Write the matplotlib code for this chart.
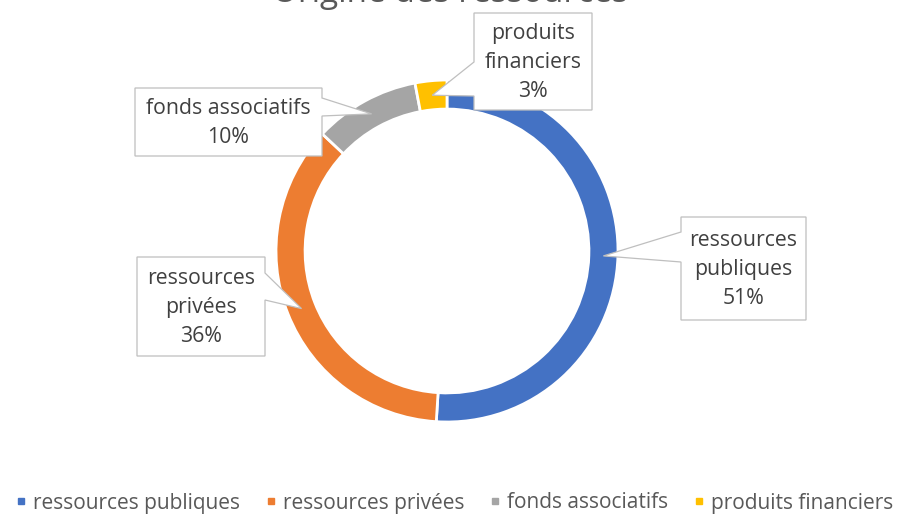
import numpy as np
import matplotlib
matplotlib.use("Agg")
import matplotlib.pyplot as plt
from matplotlib.patches import Polygon
from matplotlib.lines import Line2D

plt.rcParams['font.family'] = ['Open Sans', 'DejaVu Sans']

title = "Origine des ressources"
categories = ["ressources publiques", "ressources privées", "fonds associatifs", "produits financiers"]
label_lines = ["ressources\npubliques", "ressources\nprivées", "fonds associatifs", "produits\nfinanciers"]
values = [51, 36, 10, 3]
colors = ["#4472C4", "#ED7D31", "#A5A5A5", "#FFC000"]

W, H = 899, 515
CX, CY, R = 447, 251, 171  # donut centre / radius in pixels

fig = plt.figure(figsize=(W / 100, H / 100), dpi=100)
ax = fig.add_axes([0, 0, 1, 1])
ax.axis('off')


def px(x, y):
    return ((x - CX) / R, (CY - y) / R)


ring_w = 0.17
wedges, _ = ax.pie(values, colors=colors, startangle=90, counterclock=False,
                   radius=1.0, center=(0, 0),
                   wedgeprops=dict(width=ring_w, edgecolor='white', linewidth=2))
ax.set_xlim(-CX / R, (W - CX) / R)
ax.set_ylim((CY - H) / R, CY / R)
ax.set_aspect('equal')

total = sum(values)
pct = [f"{round(v / total * 100)}%" for v in values]

# callout boxes (pixel layout: left, top, right, bottom), side of pointer, pointer base (a1, a2)
boxes = [
    ((681, 217, 806, 320), 'left', (232, 262)),
    ((137, 257, 265, 356), 'right', (273, 300)),
    ((135, 88, 322, 156), 'right', (98, 116)),
    ((474, 13, 592, 110), 'left', (62, 96)),
]

for w, txt, p, (box, side, (a1, a2)) in zip(wedges, label_lines, pct, boxes):
    mid = np.deg2rad((w.theta1 + w.theta2) / 2)
    rm = 1 - ring_w / 2
    tip = (rm * np.cos(mid), rm * np.sin(mid))
    x0, t, x1, b = box
    if side == 'left':
        pts = [px(x0, t), px(x1, t), px(x1, b), px(x0, b), px(x0, a2), tip, px(x0, a1)]
    else:
        pts = [px(x0, t), px(x1, t), px(x1, a1), tip, px(x1, a2), px(x1, b), px(x0, b)]
    ax.add_patch(Polygon(pts, closed=True, facecolor='white', edgecolor='#BFBFBF',
                         linewidth=0.9, zorder=5))
    cx, cy = px((x0 + x1) / 2, (t + b) / 2 + 1)
    ax.text(cx, cy, f"{txt}\n{p}", ha='center', va='center', fontsize=15.3,
            color='#404040', linespacing=1.5, zorder=6)

fig.text(450 / W, 1 - 2 / H, title, ha='center', va='baseline', fontsize=24,
         color='#595959')

handles = [Line2D([], [], marker='s', linestyle='', color=c, markersize=5) for c in colors]
fig.legend(handles, categories, loc='center', bbox_to_anchor=(452 / W, 1 - 503 / H),
           ncol=4, frameon=False, fontsize=15, handletextpad=0.05, handlelength=1.0,
           columnspacing=1.0, labelcolor='#595959', borderpad=0, borderaxespad=0)

fig.savefig("out.png", dpi=100)
